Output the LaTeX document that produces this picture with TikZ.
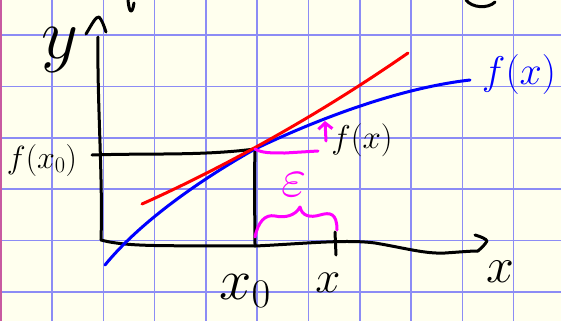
\RequirePackage{fix-cm}
\documentclass[tikz,border=0pt]{standalone}
\usetikzlibrary{arrows.meta}
\definecolor{paper}{RGB}{255,255,238}
\definecolor{gridblue}{RGB}{140,140,245}
\definecolor{margin}{RGB}{200,90,160}
\definecolor{inkblue}{RGB}{0,0,255}
\definecolor{inkred}{RGB}{255,0,0}
\definecolor{inkmagenta}{RGB}{255,0,255}
\tikzset{
  ink/.style={line width=3pt, line cap=round, line join=round},
  hand/.style={inner sep=0, outer sep=0},
}
\begin{document}
\begin{tikzpicture}[x=1pt,y=-1pt]
%%% Start Papier
        \useasboundingbox[fill=paper] (0,0) rectangle (561,321);
        \foreach \i in {1,...,10} \draw[gridblue, line width=1.5pt] (0.7+51.3*\i,0) -- (0.7+51.3*\i,321);
        \foreach \i in {0,...,5} \draw[gridblue, line width=1.5pt] (0,35+51.4*\i) -- (561,35+51.4*\i);
        \draw[margin, line width=2pt] (1,0) -- (1,321);
%%% End Papier
%%% Start Punkte
        \coordinate (O) at (101,240);
        \coordinate (ytop) at (98,37);
        \coordinate (xend) at (478,251);
        \coordinate (P) at (255,149);
        \coordinate (x0) at (255,246);
        \coordinate (xt) at (335,232);
        \coordinate (xb) at (336,255);
%%% End Punkte
%%% Start Achsen
        \draw[ink] (O) .. controls (103,180) and (97,100) .. (ytop);
        \draw[ink] (86,34) .. controls (92,24) and (96,16) .. (99,17) .. controls (102,20) and (104,26) .. (106,32);
        \draw[ink] (O) .. controls (130,248) and (180,245) .. (x0) .. controls (300,244) and (345,239) .. (375,243) .. controls (405,248) and (425,254) .. (445,253) .. controls (460,252) and (470,251) .. (xend);
        \draw[ink] (475,235) .. controls (482,237) and (486,239) .. (487,241) .. controls (485,245) and (480,249) .. (xend);
        \draw[ink] (xt) -- (xb);
%%% End Achsen
%%% Start Hilfslinien zu x_0
        \draw[ink] (92,155) .. controls (150,153) and (200,156) .. (P);
        \draw[ink] (P) .. controls (254,190) and (255,220) .. (x0);
%%% End Hilfslinien
%%% Start Kurve und Tangente
        \draw[ink, inkblue] (105,265) .. controls (140,222) and (200,180) .. (P) .. controls (320,118) and (400,88) .. (470,80);
        \draw[ink, inkred] (142,204) .. controls (200,178) and (300,128) .. (408,53);
%%% End Kurve und Tangente
%%% Start Epsilon
        \draw[ink, inkmagenta] (P) .. controls (262,153) and (270,153) .. (285,153) -- (318,151);
        \draw[ink, inkmagenta, -{Straight Barb[length=6pt,width=14pt]}] (326,141) -- (325,121);
        \draw[ink, inkmagenta] (255,237) .. controls (258,222) and (265,214) .. (275,216) .. controls (285,218) and (295,216) .. (300,207) .. controls (302,216) and (310,218) .. (320,215) .. controls (330,212) and (337,213) .. (337,230);
%%% End Epsilon
%%% Start Reste oben
        \draw[ink] (128,0) .. controls (129,12) and (132,16) .. (134,3);
        \draw[ink] (466,0) .. controls (472,8) and (488,9) .. (495,2);
%%% End Reste oben
%%% Start Beschriftung
        \draw (60,50) node[hand, font=\fontsize{72}{72}\selectfont] (ylabel) {$y$};
        \draw (500,272) node[hand, font=\fontsize{50}{50}\selectfont] (xlabel) {$x$};
        \draw (245,291) node[hand, font=\fontsize{58}{58}\selectfont] (x0label) {$x_0$};
        \draw (328,283) node[hand, font=\fontsize{45}{45}\selectfont] (xticklabel) {$x$};
        \draw (42,160) node[hand, font=\fontsize{32}{32}\selectfont] (fx0label) {$f(x_0)$};
        \draw (362,140) node[hand, font=\fontsize{33}{33}\selectfont] (fxlabel) {$f(x)$};
        \draw (519,75) node[hand, text=inkblue, font=\fontsize{40}{40}\selectfont] (flabel) {$f(x)$};
        \draw (294,185) node[hand, text=inkmagenta, font=\fontsize{55}{55}\selectfont] (epslabel) {$\varepsilon$};
%%% End Beschriftung
\end{tikzpicture}
\end{document}
